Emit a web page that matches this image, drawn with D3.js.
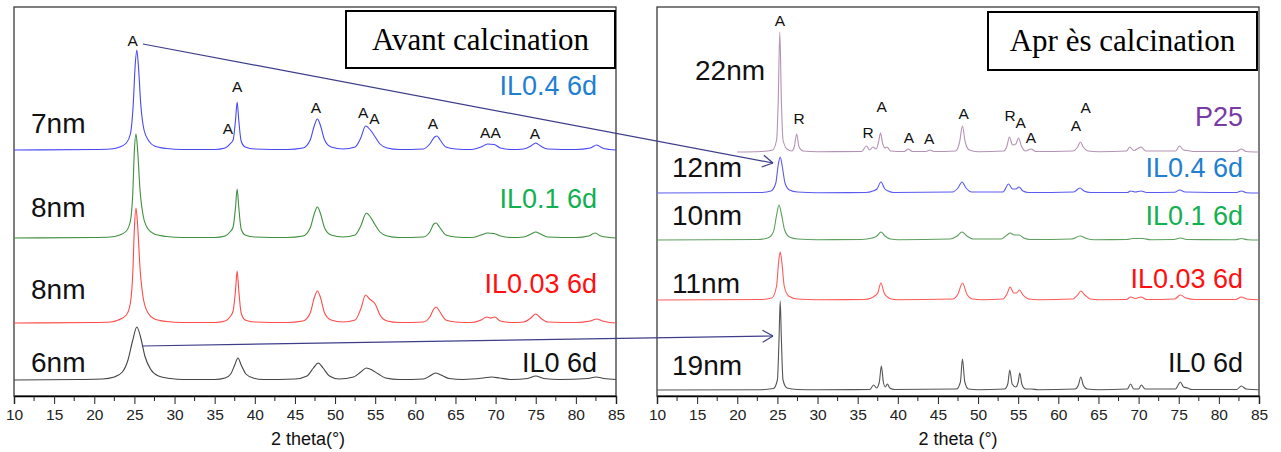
<!DOCTYPE html>
<html>
<head>
<meta charset="utf-8">
<script src="https://cdn.jsdelivr.net/npm/d3@7"></script>
<style>
  html, body { margin: 0; padding: 0; background: #fff; }
  svg { display: block; }
</style>
</head>
<body>
<svg id="chart" width="1281" height="452"></svg>
<script>
// ---------------- DATA ----------------
const xTicks = [10, 15, 20, 25, 30, 35, 40, 45, 50, 55, 60, 65, 70, 75, 80, 85];
const axisTitles = ["2 theta(°)", "2 theta (°)"];
const panelTitles = ["Avant calcination", "Apr ès calcination"];

const leftNames = ["IL0.4 6d", "IL0.1 6d", "IL0.03 6d", "IL0 6d"];
const leftSizes = ["7nm", "8nm", "8nm", "6nm"];
const leftOffsets = [246, 158, 73, 16];

const rightNames = ["P25", "IL0.4 6d", "IL0.1 6d", "IL0.03 6d", "IL0 6d"];
const rightSizes = ["22nm", "12nm", "10nm", "11nm", "19nm"];
const rightOffsets = [244, 203, 156, 96, 6];

const leftIL04 = [[10,0],[20,0.5],[22,1],[23,2.5],[24,7],[24.5,16],[24.85,45],[25.1,85],[25.3,100],[25.5,84],[25.8,45],[26.2,20],[26.8,9],[27.5,4],[29,1.5],[31,0.5],[35,0.5],[36.3,2],[36.9,6],[37.3,10],[37.6,30],[37.8,48],[38.0,30],[38.3,9],[38.8,3],[40,1],[44,0.5],[46,2],[46.9,10],[47.4,24],[47.8,31],[48.2,24],[48.7,10],[49.5,3],[51,1],[52.5,3],[53.2,12],[53.8,24],[54.4,20],[55.0,13],[55.6,6],[56.5,2],[58,0.5],[61,1],[61.8,6],[62.4,13],[62.7,14],[63.1,10],[63.8,3],[65,1],[67,0.5],[68.2,3],[69,6],[69.8,5.5],[70.6,2],[72,0.5],[73.5,1],[74.4,4],[75,7],[75.6,4],[76.5,1],[80,0.5],[81.8,2],[82.6,5],[83.3,2],[84.2,0.5],[85,0]];
const leftIL01 = [[10,0],[20,0.5],[22,1],[23,2.5],[24,7],[24.5,17],[24.8,45],[25.0,88],[25.2,104],[25.4,88],[25.7,48],[26.1,22],[26.7,9],[27.5,4],[29,1.5],[31,0.5],[35,0.5],[36.3,2],[36.9,6],[37.3,11],[37.6,31],[37.8,49],[38.0,31],[38.3,9],[38.8,3],[40,1],[44,0.5],[46,2],[46.9,10],[47.4,24],[47.8,31],[48.2,24],[48.7,10],[49.5,3],[51,1],[52.5,3],[53.2,12],[53.9,25],[54.4,21],[55.0,13],[55.6,6],[56.5,2],[58,0.5],[61,1],[61.8,6],[62.3,14],[62.6,15],[63.0,11],[63.8,3],[65,1],[67,0.5],[68.2,3],[69,5],[69.8,4.5],[70.6,2],[72,0.5],[73.5,1],[74.4,4],[75,6],[75.6,4],[76.5,1],[80,0.5],[81.6,2],[82.4,5],[83.1,2],[84.2,0.5],[85,0]];
const leftIL003 = [[10,0],[20,0.5],[22,1],[23,3],[24,8],[24.5,20],[24.8,50],[25.0,95],[25.2,115],[25.4,98],[25.7,55],[26.1,25],[26.7,10],[27.5,4],[29,1.5],[31,0.5],[35,0.5],[36.3,2],[36.9,6],[37.3,12],[37.6,33],[37.8,52],[38.0,33],[38.3,10],[38.8,3],[40,1],[44,0.5],[46,2],[46.9,10],[47.4,25],[47.8,32],[48.2,25],[48.7,10],[49.5,3],[51,1],[52.5,3],[53.2,14],[53.8,28],[54.3,24],[55.0,19],[55.6,8],[56.5,2],[58,0.5],[61,1],[61.8,6],[62.3,14],[62.6,16],[63.0,12],[63.8,3],[65,1],[67,0.5],[68.2,3],[68.9,6],[69.4,5],[69.9,6],[70.6,2],[72,0.5],[73.5,1],[74.4,5],[75,9],[75.6,5],[76.5,1],[80,0.5],[81.8,2],[82.6,4],[83.3,2],[84.2,0.5],[85,0]];
const leftIL0 = [[10,0],[18,0.5],[21,1],[22.5,3],[23.5,8],[24.2,20],[24.8,40],[25.3,53],[25.8,42],[26.3,24],[27,11],[28,4],[29.5,1.5],[31,0.5],[35,0.5],[36.3,2],[37,6],[37.5,15],[37.9,22],[38.3,15],[38.9,6],[39.8,2],[41,0.5],[45,1],[46.5,4],[47.3,12],[47.9,17],[48.5,12],[49.3,4],[50.5,1],[52.3,3],[53.2,8],[53.9,12],[54.6,10],[55.4,6],[56.3,2],[58,0.5],[61,1],[61.8,4],[62.5,7],[63.2,5],[64.2,1.5],[66,0.5],[68.5,2],[69.5,3],[70.5,2],[72,0.5],[74,1.5],[75,4],[76,1.5],[78,0.5],[81.5,1.5],[82.5,3],[83.5,1.5],[85,0.5]];

const rightP25 = [[20,0],[23,0.5],[24.4,2],[24.9,12],[25.1,50],[25.3,120],[25.5,50],[25.7,12],[26.2,3],[26.8,1],[27.1,5],[27.4,18],[27.7,5],[28.2,1],[30,0.3],[35.5,0.5],[36.1,6],[36.5,2],[36.9,5],[37.3,3],[37.6,10],[37.85,19],[38.1,9],[38.4,4],[38.65,5],[39.1,1],[40.8,0.5],[41.3,3],[41.8,0.5],[43.5,0.5],[44.0,2],[44.5,0.5],[47.2,1],[47.7,10],[48.05,26],[48.4,10],[48.9,2],[50,0.3],[53.2,1],[53.6,6],[53.9,15],[54.3,7],[54.7,8],[55.05,14],[55.4,6],[55.9,1],[56.6,3],[57.2,0.5],[61.8,1],[62.4,5],[62.75,10],[63.1,5],[63.7,1],[65,0.3],[68.5,1],[68.9,5],[69.4,1.5],[70.3,5],[70.9,1],[74.6,1],[75.1,6],[75.6,2],[76.1,1.5],[77,0.5],[82.2,0.5],[82.8,3],[83.4,0.5],[85,0]];
const rightIL04 = [[10,0],[23,0.5],[24.2,2],[24.8,10],[25.1,28],[25.35,36],[25.6,27],[25.95,10],[26.5,3],[27.5,1],[30,0.3],[36,0.5],[36.9,2],[37.4,4],[37.9,11],[38.4,4],[38.8,2],[39.5,0.5],[46.8,1],[47.5,5],[48.0,11],[48.5,5],[49.2,1],[53.1,1],[53.8,9],[54.3,4],[54.7,4],[55.1,6],[55.6,2],[56.3,0.5],[61.9,1],[62.7,5],[63.2,2],[64,0.5],[68.6,0.5],[69,2],[69.6,1],[70.3,2],[71,0.5],[74.5,0.8],[75.1,3],[75.8,1],[82.2,0.5],[82.8,2],[83.4,0.3],[85,0]];
const rightIL01 = [[10,0],[22.5,0.5],[23.8,2],[24.5,8],[24.9,25],[25.2,35],[25.5,26],[25.9,10],[26.5,3],[27.5,1],[30,0.3],[35.5,0.5],[36.8,2],[37.4,4],[37.9,8],[38.4,4],[39.1,1],[40,0.3],[46.5,1],[47.4,4],[48.0,8],[48.6,4],[49.4,1],[52.9,1],[53.6,5],[54.0,7],[54.5,5],[55.1,5],[55.7,2],[56.5,0.5],[61.7,1],[62.7,4],[63.5,1.5],[64.5,0.3],[68.5,0.5],[69.3,1.5],[70.5,1.5],[71.5,0.3],[74.4,0.5],[75.2,2],[76,0.5],[82,0.3],[82.8,1.5],[83.6,0.3],[85,0]];
const rightIL003 = [[10,0],[23,0.5],[24.3,2],[24.9,14],[25.15,38],[25.35,48],[25.55,38],[25.85,14],[26.4,4],[27.5,1],[30,0.3],[35.8,0.5],[36.7,2],[37.1,4],[37.5,7],[37.9,17],[38.3,7],[38.7,3],[39.2,1],[40,0.3],[46.8,1],[47.5,6],[48.05,17],[48.6,6],[49.3,1],[50.5,0.3],[53.1,1],[53.6,6],[54.0,13],[54.45,7],[54.8,7],[55.15,10],[55.6,5],[56.3,1],[57.5,0.3],[61.8,1],[62.4,5],[62.8,9],[63.3,5],[64,1],[65,0.3],[68.5,0.5],[69.0,3],[69.6,1.5],[70.3,3],[71,0.5],[74.5,1],[75.2,5],[75.9,2],[77,0.5],[82.1,0.5],[82.8,3],[83.5,1],[85,0.3]];
const rightIL0 = [[10,0],[23,0.3],[24.5,1.5],[25.0,10],[25.2,50],[25.35,89],[25.5,50],[25.7,10],[26.2,2],[27.5,0.5],[30,0.3],[36.5,0.5],[37.0,5],[37.35,2],[37.7,8],[37.95,24],[38.2,8],[38.45,3],[38.7,6],[39.0,2],[39.6,0.5],[47.3,1],[47.8,8],[48.05,31],[48.35,8],[48.8,1],[50,0.3],[53.3,1],[53.7,6],[53.95,20],[54.25,6],[54.7,3],[55.0,8],[55.2,17],[55.45,6],[55.9,1],[56.6,1],[57.5,0.3],[62.1,1],[62.5,5],[62.8,13],[63.1,5],[63.6,1],[65,0.3],[68.6,1],[69.0,6],[69.4,1],[70.0,1],[70.35,5],[70.8,1],[74.6,1],[75.0,6],[75.2,8],[75.6,3],[76.1,2],[76.6,0.5],[82.2,0.5],[82.8,4],[83.4,1],[85,0.3]];

const leftSeries = [leftIL04, leftIL01, leftIL003, leftIL0];
const rightSeries = [rightP25, rightIL04, rightIL01, rightIL003, rightIL0];

// phase markers: [2theta, stacked intensity, label]
const leftMarkers = [[24.8,356,"A"],[36.65,268,"A"],[37.8,310,"A"],[47.6,289,"A"],[53.5,284,"A"],[54.9,278,"A"],[62.2,273,"A"],[68.7,264,"A"],[70.0,264,"A"],[74.9,263,"A"]];
const rightMarkers = [[25.3,376,"A"],[27.7,278,"R"],[36.3,264,"R"],[38.0,290,"A"],[41.4,259,"A"],[43.9,258,"A"],[48.2,283,"A"],[54.0,281,"R"],[55.3,274,"A"],[56.6,259,"A"],[62.2,271,"A"],[63.4,289,"A"]];

// arrows: start in left panel [2theta, intensity], end in right panel [2theta, intensity]
const arrowStarts = [[26.06, 352], [25.94, 50]];
const arrowEnds = [[24.45, 233], [24.45, 60]];

// ---------------- STYLE / LAYOUT ----------------
const lineColorsLeft = ["#4848f2", "#3f8f3f", "#ff4a4a", "#444444"];
const lineColorsRight = ["#b493b4", "#5a5af0", "#5f9f5f", "#ff5a5a", "#555555"];
const textColorsLeft = ["#1f7fd0", "#12b050", "#ff1010", "#111111"];
const textColorsRight = ["#7a3aa5", "#1f7fd0", "#12b050", "#ff1010", "#111111"];

const W = 1281, H = 452;
const panelTop = 7, panelBottom = 396;
const panels = [
  { x0: 14, x1: 616 },
  { x0: 657, x1: 1259 }
];
const svg = d3.select("#chart");
svg.append("rect").attr("width", W).attr("height", H).attr("fill", "#fff");

const y = d3.scaleLinear().domain([0, panelBottom - panelTop]).range([panelBottom, panelTop]);
const xs = panels.map(p => d3.scaleLinear().domain([10, 85]).range([p.x0, p.x1]));

const FONT = "'Liberation Sans', Arial, sans-serif";
const SERIF = "'Liberation Serif', 'Times New Roman', serif";

function drawPanel(i, series, offsets, lineColors) {
  const x = xs[i];
  const p = panels[i];
  const g = svg.append("g");
  g.append("rect").attr("x", p.x0).attr("y", panelTop)
    .attr("width", p.x1 - p.x0).attr("height", panelBottom - panelTop)
    .attr("fill", "none").attr("stroke", "#3a3a3a").attr("stroke-width", 1.3);
  const line = d3.line().x(d => x(d[0])).y(d => d[2]).curve(d3.curveMonotoneX);
  series.forEach((s, k) => {
    const pts = s.map(d => [d[0], d[1], y(d[1] + offsets[k])]);
    g.append("path").attr("d", line(pts))
      .attr("fill", "none").attr("stroke", lineColors[k]).attr("stroke-width", 1.1)
      .attr("stroke-linejoin", "round");
  });
  const minor = d3.range(12.5, 85, 5);
  const ax = g.append("g").attr("transform", `translate(0,${panelBottom})`);
  ax.call(d3.axisBottom(x).tickValues(xTicks).tickSize(8).tickPadding(5).tickFormat(d3.format("d")));
  ax.select(".domain").attr("stroke", "#000").attr("stroke-width", 1.4);
  ax.selectAll(".tick line").attr("stroke", "#222");
  ax.selectAll(".tick text").attr("font-family", FONT).attr("font-size", 15.5).attr("fill", "#222");
  ax.selectAll(".minor").data(minor).enter().append("line")
    .attr("x1", d => x(d)).attr("x2", d => x(d)).attr("y1", 0).attr("y2", 5)
    .attr("stroke", "#222");
  g.append("text").attr("x", (p.x0 + p.x1) / 2 + (i === 0 ? -7 : 0)).attr("y", 445)
    .attr("text-anchor", "middle").attr("font-family", FONT).attr("font-size", 18)
    .attr("fill", "#111").text(axisTitles[i]);
}

drawPanel(0, leftSeries, leftOffsets, lineColorsLeft);
drawPanel(1, rightSeries, rightOffsets, lineColorsRight);

const boxes = [{ x: 346, y: 11, w: 269, h: 57 }, { x: 988, y: 12, w: 269, h: 58 }];
boxes.forEach((b, i) => {
  svg.append("rect").attr("x", b.x).attr("y", b.y).attr("width", b.w).attr("height", b.h)
    .attr("fill", "#fff").attr("stroke", "#000").attr("stroke-width", 2);
  svg.append("text").attr("x", b.x + b.w / 2).attr("y", b.y + 39)
    .attr("text-anchor", "middle").attr("font-family", SERIF).attr("font-size", 31)
    .attr("fill", "#000").text(panelTitles[i]);
});

const leftNameY = [95, 208, 293, 372];
const leftSizeY = [133, 217, 299, 372];
leftNames.forEach((n, k) => {
  svg.append("text").attr("x", 597).attr("y", leftNameY[k]).attr("text-anchor", "end")
    .attr("font-family", FONT).attr("font-size", 27).attr("fill", textColorsLeft[k]).text(n);
  svg.append("text").attr("x", 31).attr("y", leftSizeY[k])
    .attr("font-family", FONT).attr("font-size", 28).attr("fill", "#111").text(leftSizes[k]);
});
const rightNameY = [126, 177, 225, 288, 372];
const rightSizeY = [80, 177, 225, 293, 375];
const rightSizeX = [695, 672, 672, 672, 672];
rightNames.forEach((n, k) => {
  svg.append("text").attr("x", 1243).attr("y", rightNameY[k]).attr("text-anchor", "end")
    .attr("font-family", FONT).attr("font-size", 27).attr("fill", textColorsRight[k]).text(n);
  svg.append("text").attr("x", rightSizeX[k]).attr("y", rightSizeY[k])
    .attr("font-family", FONT).attr("font-size", 28).attr("fill", "#111").text(rightSizes[k]);
});

function drawMarkers(i, markers) {
  svg.append("g").selectAll("text").data(markers).enter().append("text")
    .attr("x", d => xs[i](d[0])).attr("y", d => y(d[1]) + 6)
    .attr("text-anchor", "middle").attr("font-family", FONT).attr("font-size", 15.5)
    .attr("fill", "#111").text(d => d[2]);
}
drawMarkers(0, leftMarkers);
drawMarkers(1, rightMarkers);

const arrowColor = "#3d3d8a";
arrowStarts.forEach((s, k) => {
  const e = arrowEnds[k];
  const x1 = xs[0](s[0]), y1 = y(s[1]), x2 = xs[1](e[0]), y2 = y(e[1]);
  svg.append("line").attr("x1", x1).attr("y1", y1).attr("x2", x2).attr("y2", y2)
    .attr("stroke", arrowColor).attr("stroke-width", 1.2);
  const ang = Math.atan2(y2 - y1, x2 - x1);
  const L = 12, spread = Math.PI / 6;
  [ang + Math.PI - spread, ang + Math.PI + spread].forEach(a => {
    svg.append("line").attr("x1", x2).attr("y1", y2)
      .attr("x2", x2 + L * Math.cos(a)).attr("y2", y2 + L * Math.sin(a))
      .attr("stroke", arrowColor).attr("stroke-width", 1.2);
  });
});
</script>
</body>
</html>
